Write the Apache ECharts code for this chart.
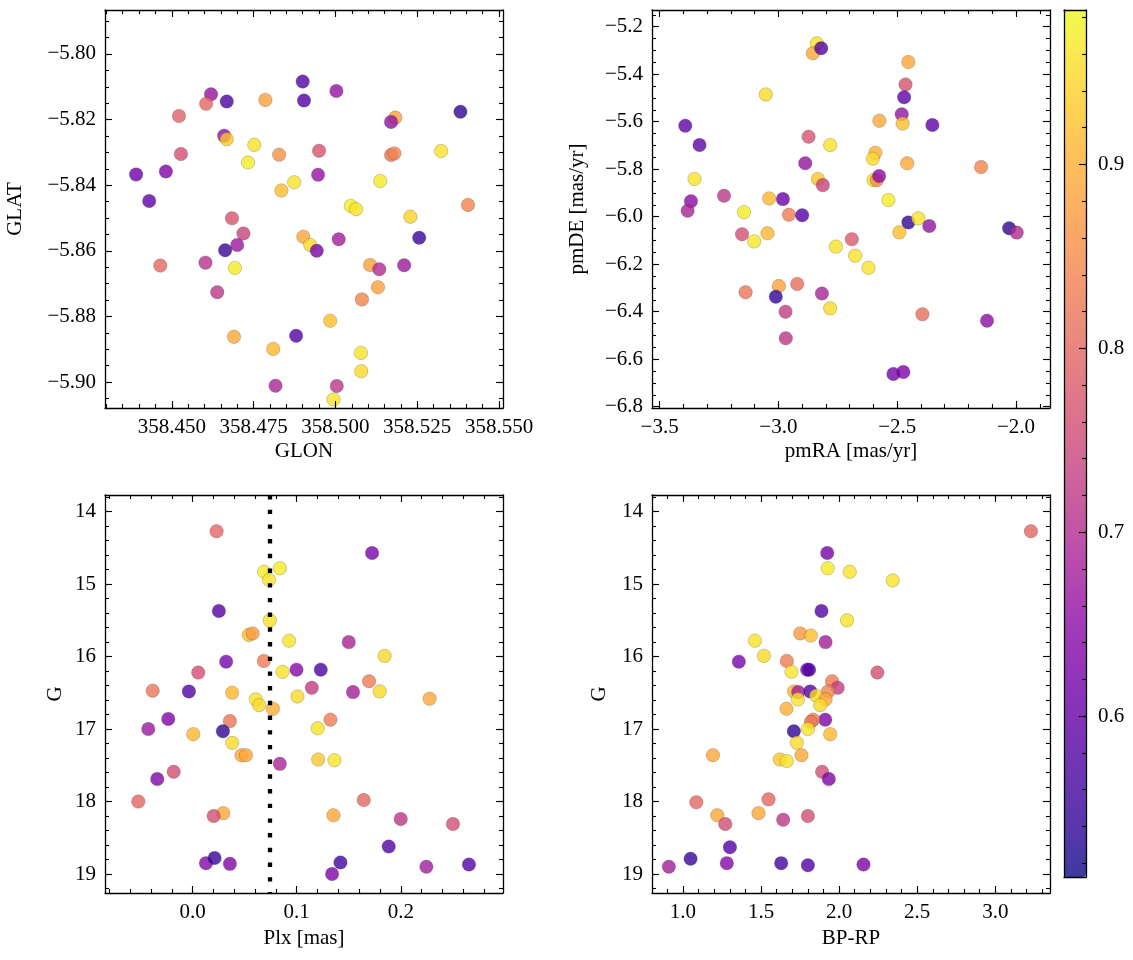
<!DOCTYPE html>
<html><head><meta charset="utf-8">
<script src="https://cdn.jsdelivr.net/npm/echarts@6/dist/echarts.min.js"></script>
<style>html,body{margin:0;padding:0;background:#fff}#c{width:1133px;height:960px}</style>
</head><body><div id="c"></div>
<script>
// ---------- DATA ----------
// Panel 1: sky positions
const glon = [358.4900,358.4904,358.4620,358.4605,358.4668,358.4786,358.4522,358.4660,358.4668,358.4752,358.4828,358.4528,358.4733,358.4391,358.4482,358.4874,358.4835,358.4431,358.5003,358.5382,358.5183,358.5170,358.4950,358.5170,358.5180,358.5323,358.4947,358.5137,358.5047,358.5063,358.5405,358.5229,358.4684,358.4719,358.4663,358.4700,358.4465,358.4603,358.4693,358.4639,358.4690,358.4880,358.4810,358.4817,358.4902,358.4923,358.4943,358.5010,358.5256,358.5106,358.5134,358.5210,358.5130,358.5081,358.4984,358.5078,358.5079,358.5004,358.4994];
const glat = [-5.8084,-5.8142,-5.8123,-5.8152,-5.8145,-5.8140,-5.8189,-5.8249,-5.8260,-5.8277,-5.8307,-5.8305,-5.8331,-5.8367,-5.8358,-5.8391,-5.8416,-5.8448,-5.8113,-5.8176,-5.8194,-5.8207,-5.8295,-5.8308,-5.8303,-5.8296,-5.8368,-5.8387,-5.8463,-5.8473,-5.8460,-5.8496,-5.8501,-5.8547,-5.8598,-5.8582,-5.8645,-5.8636,-5.8652,-5.8726,-5.8862,-5.8859,-5.8899,-5.9011,-5.8557,-5.8582,-5.8600,-5.8565,-5.8560,-5.8643,-5.8656,-5.8644,-5.8711,-5.8748,-5.8813,-5.8911,-5.8967,-5.9012,-5.9053];
const probSky = [0.58,0.58,0.66,0.80,0.57,0.88,0.79,0.65,0.93,0.96,0.86,0.76,0.97,0.61,0.63,0.96,0.92,0.59,0.66,0.54,0.88,0.66,0.77,0.82,0.84,0.96,0.66,0.97,0.97,0.96,0.84,0.94,0.77,0.74,0.55,0.67,0.80,0.71,0.97,0.72,0.89,0.58,0.91,0.69,0.89,0.95,0.62,0.68,0.55,0.88,0.70,0.67,0.88,0.84,0.92,0.96,0.95,0.72,0.96];

// Panel 2: proper motions
const pmra = [-2.838,-2.855,-2.820,-3.053,-3.392,-3.332,-2.873,-2.782,-2.887,-3.353,-2.834,-2.813,-3.229,-3.039,-2.981,-3.368,-3.382,-3.145,-2.956,-2.900,-3.153,-3.102,-3.046,-3.138,-2.998,-3.011,-2.921,-2.970,-2.969,-2.817,-2.782,-2.453,-2.465,-2.471,-2.481,-2.477,-2.575,-2.352,-2.592,-2.603,-2.458,-2.147,-2.600,-2.586,-2.576,-2.537,-2.453,-2.411,-2.365,-2.491,-2.691,-2.758,-2.677,-2.621,-2.029,-1.997,-2.394,-2.122,-2.516,-2.474];
const pmde = [-5.270,-5.312,-5.291,-5.485,-5.617,-5.698,-5.663,-5.698,-5.775,-5.841,-5.841,-5.867,-5.912,-5.923,-5.926,-5.935,-5.975,-5.981,-5.992,-5.994,-6.074,-6.104,-6.070,-6.318,-6.292,-6.337,-6.283,-6.400,-6.512,-6.323,-6.386,-5.349,-5.443,-5.497,-5.569,-5.608,-5.596,-5.614,-5.731,-5.756,-5.775,-5.791,-5.846,-5.846,-5.829,-5.930,-6.024,-6.007,-6.039,-6.066,-6.095,-6.126,-6.164,-6.215,-6.049,-6.067,-6.411,-6.438,-6.662,-6.654];
const probPM = [0.96,0.89,0.58,0.95,0.59,0.59,0.77,0.96,0.66,0.96,0.93,0.74,0.72,0.91,0.61,0.65,0.69,0.97,0.83,0.58,0.76,0.97,0.91,0.82,0.88,0.54,0.81,0.73,0.72,0.69,0.95,0.89,0.77,0.59,0.66,0.92,0.89,0.59,0.90,0.95,0.89,0.84,0.96,0.85,0.65,0.97,0.54,0.96,0.66,0.92,0.78,0.96,0.96,0.96,0.54,0.70,0.81,0.65,0.62,0.63];

// Panel 3: parallax vs G
const plx = [0.0230,0.1724,0.0687,0.0838,0.0735,0.0252,0.0742,0.0540,0.0576,0.0927,0.1500,0.1845,0.0322,0.0684,0.0864,0.0998,0.1231,0.0054,0.1695,0.1145,-0.0384,-0.0036,0.0380,0.1541,0.1797,0.2277,0.1007,0.0607,0.0639,0.0771,-0.0234,0.1324,0.0358,-0.0426,0.0006,0.0291,0.1202,0.0380,0.0470,0.0512,0.1206,0.1363,0.0838,-0.0340,-0.0182,-0.0522,0.1644,0.0294,0.0202,0.1353,0.1999,0.2501,0.1884,0.0128,0.0211,0.0358,0.1420,0.1340,0.2246,0.2655];
const gPlx = [14.27,14.57,14.83,14.78,14.94,15.37,15.50,15.70,15.68,15.78,15.80,15.99,16.07,16.06,16.21,16.18,16.18,16.22,16.34,16.43,16.47,16.48,16.50,16.49,16.48,16.58,16.55,16.59,16.67,16.72,16.86,16.87,16.89,17.00,17.07,17.03,16.99,17.19,17.36,17.36,17.42,17.43,17.48,17.69,17.59,18.00,17.98,18.16,18.20,18.19,18.24,18.31,18.62,18.85,18.78,18.86,18.84,19.00,18.90,18.87];
const probPlx = [0.80,0.62,0.97,0.97,0.96,0.58,0.96,0.92,0.87,0.96,0.69,0.95,0.62,0.83,0.96,0.64,0.57,0.76,0.83,0.73,0.82,0.58,0.91,0.68,0.95,0.89,0.95,0.96,0.95,0.90,0.63,0.83,0.82,0.67,0.91,0.54,0.96,0.95,0.89,0.89,0.93,0.96,0.69,0.63,0.76,0.80,0.80,0.89,0.76,0.89,0.72,0.76,0.58,0.64,0.55,0.63,0.56,0.63,0.68,0.58];
const plxMean = 0.0742;

// Panel 4: colour-magnitude diagram
const bprp = [3.228,1.924,1.927,2.068,2.343,1.887,2.051,1.751,1.819,1.913,1.461,1.518,1.358,1.665,1.695,1.795,1.808,2.245,1.955,1.991,1.712,1.738,1.815,1.853,1.930,1.736,1.913,1.879,1.663,1.911,1.834,1.819,1.800,1.710,1.943,1.729,1.192,1.759,1.620,1.665,1.891,1.934,1.086,1.548,1.220,1.484,1.800,1.642,1.271,1.301,0.910,1.049,1.281,1.629,1.800,2.156];
const gCmd = [14.27,14.57,14.78,14.83,14.95,15.37,15.50,15.68,15.71,15.80,15.78,15.99,16.07,16.06,16.21,16.18,16.18,16.22,16.34,16.43,16.48,16.49,16.48,16.54,16.48,16.59,16.59,16.67,16.72,16.87,16.87,16.90,17.00,17.03,17.07,17.19,17.36,17.36,17.42,17.44,17.59,17.69,18.01,17.97,18.19,18.16,18.20,18.25,18.31,18.63,18.90,18.79,18.85,18.85,18.88,18.87];
const probCmd = [0.80,0.62,0.97,0.96,0.96,0.58,0.96,0.87,0.92,0.68,0.96,0.95,0.62,0.83,0.96,0.64,0.57,0.76,0.83,0.73,0.91,0.68,0.58,0.95,0.84,0.96,0.89,0.95,0.90,0.63,0.83,0.82,0.96,0.54,0.91,0.95,0.89,0.89,0.93,0.96,0.76,0.63,0.80,0.80,0.89,0.89,0.76,0.72,0.76,0.58,0.68,0.55,0.64,0.56,0.58,0.63];

// colour scale range and ticks
const probMin = 0.5125, probMax = 0.984;
const cbarTicks = [0.6, 0.7, 0.8, 0.9];

// ---------- STYLE / HELPERS ----------
const FONT = 'Liberation Serif';
const FS = 21;
const plasma = ['#0d0887','#2c0594','#41049d','#5601a4','#6a00a8','#7e03a8','#8f0da4','#a11b9b','#b12a90','#bf3984','#cc4778','#d6556d','#e16462','#ea7457','#f2844b','#f89540','#fca636','#feb72d','#fcce25','#f7e225','#f0f921'];
const ALPHA = 0.8;
function blend(hex, a) {
  const n = parseInt(hex.slice(1), 16);
  const f = c => Math.round(c * a + 255 * (1 - a));
  return 'rgb(' + f((n >> 16) & 255) + ',' + f((n >> 8) & 255) + ',' + f(n & 255) + ')';
}
function range(a, b, step) {
  const out = []; const n = Math.round((b - a) / step);
  for (let i = 0; i <= n; i++) out.push(+(a + i * step).toFixed(6));
  return out;
}
const minus = s => s.replace('-', '\u2212');

const panels = [
  { left: 105, top: 10,
    x: { min: 358.4296, max: 358.5512, majors: range(358.45, 358.55, 0.025), minors: range(358.430, 358.550, 0.005), dec: 3, name: 'GLON', gap: 33 },
    y: { min: -5.9079, max: -5.7866, majors: range(-5.90, -5.80, 0.02), minors: range(-5.905, -5.790, 0.005), dec: 2, name: 'GLAT', gap: 79 },
    xs: glon, ys: glat, ps: probSky },
  { left: 652, top: 10,
    x: { min: -3.532, max: -1.857, majors: range(-3.5, -2.0, 0.5), minors: range(-3.5, -1.9, 0.1), dec: 1, name: 'pmRA [mas/yr]', gap: 33 },
    y: { min: -6.8055, max: -5.1297, majors: range(-6.8, -5.2, 0.2), minors: range(-6.8, -5.15, 0.05), dec: 1, name: 'pmDE [mas/yr]', gap: 64 },
    xs: pmra, ys: pmde, ps: probPM },
  { left: 105, top: 495,
    x: { min: -0.0842, max: 0.2982, majors: range(0.0, 0.2, 0.1), minors: range(-0.08, 0.28, 0.02), dec: 1, name: 'Plx [mas]', gap: 35 },
    y: { min: 13.770, max: 19.262, inverse: true, majors: range(14, 19, 1), minors: range(13.8, 19.2, 0.2), dec: 0, name: 'G', gap: 39 },
    xs: plx, ys: gPlx, ps: probPlx, vline: plxMean },
  { left: 652, top: 495,
    x: { min: 0.802, max: 3.350, majors: range(1.0, 3.0, 0.5), minors: range(0.9, 3.3, 0.1), dec: 1, name: 'BP-RP', gap: 35 },
    y: { min: 13.770, max: 19.262, inverse: true, majors: range(14, 19, 1), minors: range(13.8, 19.2, 0.2), dec: 0, name: 'G', gap: 42 },
    xs: bprp, ys: gCmd, ps: probCmd }
];

const grids = [], xAxes = [], yAxes = [], series = [];
const MAJ = 7, MIN = 4;

function axis(gi, pos, a, opt) {
  return {
    type: 'value', gridIndex: gi, position: pos, min: a.min, max: a.max, inverse: !!a.inverse,
    z: opt.z || 3,
    axisLine: opt.line ? { show: true, onZero: false, lineStyle: { color: '#000', width: 1.3 } } : { show: false, onZero: false },
    axisTick: opt.ticks ? { show: true, inside: true, length: opt.len, customValues: opt.ticks, lineStyle: { color: '#000', width: 1.1 } } : { show: false },
    axisLabel: opt.labels ? { show: true, customValues: opt.labels, margin: opt.margin || 9,
      formatter: v => minus((+v).toFixed(a.dec)), fontFamily: FONT, fontSize: FS, color: '#000' } : { show: false },
    splitLine: { show: false }, minorTick: { show: false }, minorSplitLine: { show: false },
    name: opt.name || '', nameLocation: 'middle', nameGap: a.gap,
    nameTextStyle: { fontFamily: FONT, fontSize: FS, color: '#000' },
    silent: true
  };
}

panels.forEach(p => {
  grids.push({ left: p.left, top: p.top, width: 398, height: 398 });
  const gi = grids.length - 1;
  const xi = xAxes.length, yi = yAxes.length;
  xAxes.push(axis(gi, 'bottom', p.x, { line: true, ticks: p.x.majors, len: MAJ, labels: p.x.majors, name: p.x.name }));
  xAxes.push(axis(gi, 'bottom', p.x, { ticks: p.x.minors, len: MIN }));
  xAxes.push(axis(gi, 'top', p.x, { line: true, ticks: p.x.majors, len: MAJ }));
  xAxes.push(axis(gi, 'top', p.x, { ticks: p.x.minors, len: MIN }));
  yAxes.push(axis(gi, 'left', p.y, { line: true, ticks: p.y.majors, len: MAJ, labels: p.y.majors, name: p.y.name }));
  yAxes.push(axis(gi, 'left', p.y, { ticks: p.y.minors, len: MIN }));
  yAxes.push(axis(gi, 'right', p.y, { line: true, ticks: p.y.majors, len: MAJ }));
  yAxes.push(axis(gi, 'right', p.y, { ticks: p.y.minors, len: MIN }));
  const s = {
    type: 'scatter', xAxisIndex: xi, yAxisIndex: yi,
    data: p.xs.map((v, i) => [v, p.ys[i], p.ps[i]]),
    symbol: 'circle', symbolSize: 13.5,
    itemStyle: { opacity: ALPHA, borderColor: 'rgba(50,50,50,0.55)', borderWidth: 0.5 },
    emphasis: { disabled: true }, animation: false, z: 2
  };
  if (p.vline != null) {
    s.markLine = {
      silent: true, symbol: ['none', 'none'], label: { show: false }, animation: false, precision: 6,
      lineStyle: { color: '#000', width: 4.3, type: [4.4, 10.3], cap: 'butt', opacity: 1 },
      data: [{ xAxis: p.vline }]
    };
  }
  series.push(s);
});

// colour bar frame + ticks
const cb = { min: probMin, max: probMax, dec: 1, gap: 0 };
const cbx = { min: 0, max: 1, dec: 0, gap: 0 };
grids.push({ left: 1064, top: 10, width: 22, height: 867 });
const cgi = grids.length - 1;
xAxes.push(axis(cgi, 'bottom', cbx, { line: true, z: 10 }));
xAxes.push(axis(cgi, 'top', cbx, { line: true, z: 10 }));
yAxes.push(axis(cgi, 'right', cb, { line: true, ticks: cbarTicks, len: MAJ, labels: cbarTicks, margin: 12, z: 10 }));
yAxes.push(axis(cgi, 'right', cb, { ticks: range(0.52, 0.98, 0.02), len: MIN, z: 10 }));
yAxes.push(axis(cgi, 'left', cb, { line: true, z: 10 }));

const chart = echarts.init(document.getElementById('c'), null, { renderer: 'canvas' });
chart.setOption({
  animation: false,
  backgroundColor: '#fff',
  grid: grids,
  xAxis: xAxes,
  yAxis: yAxes,
  visualMap: {
    type: 'continuous', min: probMin, max: probMax, dimension: 2,
    seriesIndex: [0, 1, 2, 3],
    inRange: { color: plasma },
    controller: { inRange: { color: plasma.map(c => blend(c, ALPHA)) } },
    show: true, calculable: false, hoverLink: false, realtime: false,
    orient: 'vertical', left: 1064, top: 10, itemWidth: 22, itemHeight: 867,
    padding: 0, text: null, z: 4
  },
  series: series
});
</script></body></html>
